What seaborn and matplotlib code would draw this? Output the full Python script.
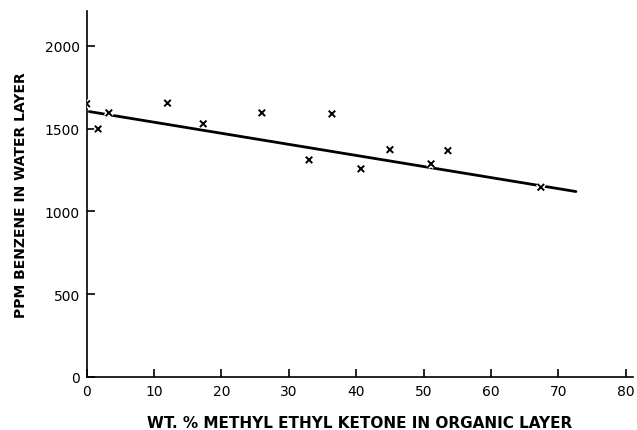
import matplotlib
matplotlib.use("Agg")
import matplotlib.pyplot as plt
import matplotlib.patheffects as pe
import seaborn as sns
import pandas as pd

# data
mek_pct = [0.0, 1.7, 3.3, 12.0, 17.3, 26.0, 33.0, 36.4, 40.7, 45.0, 51.1, 53.6, 67.4]
ppm_benzene = [1650, 1498, 1595, 1654, 1529, 1595, 1311, 1589, 1257, 1373, 1287, 1367, 1146]

# drawn fit line (end points)
fit_x = [0.4, 72.6]
fit_y = [1603, 1120]

x_ticks = [0, 10, 20, 30, 40, 50, 60, 70, 80]
y_ticks = [0, 500, 1000, 1500, 2000]

pts = pd.DataFrame({"mek": mek_pct, "ppm": ppm_benzene})
fit = pd.DataFrame({"mek": fit_x, "ppm": fit_y})

sns.set_style("ticks")
plt.rcParams["font.family"] = ["DejaVu Sans"]
plt.rcParams["text.color"] = "black"
plt.rcParams["axes.labelcolor"] = "black"

fig = plt.figure(figsize=(6.37, 4.31), dpi=100)
ax = fig.add_axes([0.136, 0.123, 0.857, 0.849])

sns.lineplot(data=fit, x="mek", y="ppm", color="black", linewidth=2.0, ax=ax)
sns.scatterplot(data=pts, x="mek", y="ppm", marker="x", color="black", s=22,
                linewidth=1.4, ax=ax, zorder=3,
                path_effects=[pe.withStroke(linewidth=3.5, foreground="white")])

ax.set_xlim(0, 81)
ax.set_ylim(0, 2210)
ax.set_xticks(x_ticks)
ax.set_yticks(y_ticks)

sns.despine(ax=ax)
for s in ["left", "bottom"]:
    ax.spines[s].set_linewidth(1.2)
    ax.spines[s].set_color("black")

ax.tick_params(axis="both", direction="in", length=6, width=1.2, colors="black",
               labelcolor="black", labelsize=10, pad=5)

ax.set_xlabel("WT. % METHYL ETHYL KETONE IN ORGANIC LAYER", fontsize=11,
              fontweight="bold", labelpad=12)
ax.set_ylabel("PPM BENZENE IN WATER LAYER", fontsize=10, fontweight="bold",
              labelpad=12)

fig.savefig("out.png", dpi=100)
plt.close(fig)
